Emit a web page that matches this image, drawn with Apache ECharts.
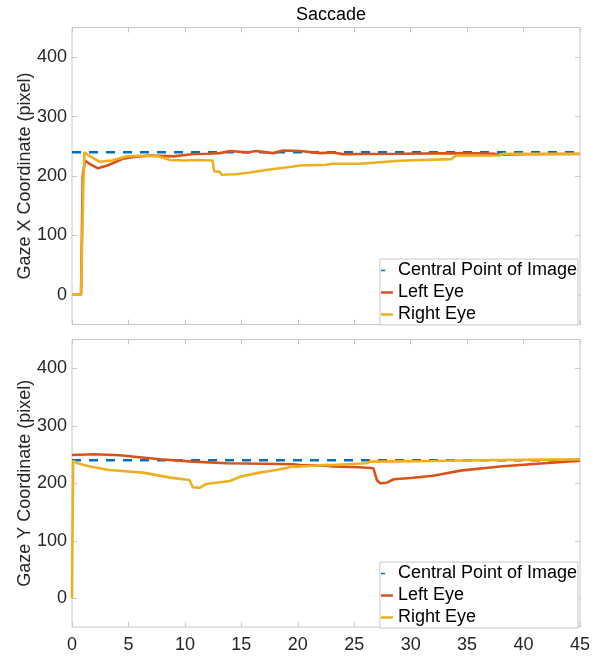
<!DOCTYPE html>
<html>
<head>
<meta charset="utf-8">
<script src="https://cdn.jsdelivr.net/npm/echarts@6/dist/echarts.min.js"></script>
<style>html,body{margin:0;padding:0;background:#fff;}#c{width:606px;height:657px;}</style>
</head>
<body>
<div id="c"></div>
<script>
// ---- Data ----
const titleText = "Saccade";
const seriesNames = ["Central Point of Image", "Left Eye", "Right Eye"];
const xTicks = [0, 5, 10, 15, 20, 25, 30, 35, 40, 45];
const yTicks = [0, 100, 200, 300, 400];

const centralT = [0, 45];
const centralV = [240, 240];

// Gaze X (top panel)
const leftXT = [0, 0.8, 0.95, 1.15, 1.6, 2.3, 3.2, 4.5, 5.5, 6.9, 9.0, 10.8, 12.0, 13.1, 14.0, 15.5, 16.3, 17.8, 18.7, 20.2, 22.0, 23.1, 24.0, 25.5, 29, 35, 37.4, 37.9, 40, 45];
const leftXV = [0, 0, 200, 226, 220, 213, 218, 229, 232, 234.5, 233, 237, 237.5, 238.5, 242, 239.7, 242, 238.5, 243, 242, 238.5, 239.6, 236.8, 237, 237.4, 238.5, 237.5, 235.7, 236.5, 237];
const rightXT = [0, 0.8, 1.0, 1.1, 1.6, 2.45, 3.5, 4.8, 6, 7.7, 8.7, 10, 11, 12.45, 12.6, 13.1, 13.25, 14.5, 15.75, 17.2, 19.6, 20.2, 22.5, 23.1, 25.5, 29, 33.6, 34.0, 37.8, 38.2, 45];
const rightXV = [0, 0, 180, 240, 233, 224, 226, 233, 234, 233, 227, 226, 227, 226, 208, 207, 202, 203, 206, 210, 216, 217.7, 219, 220.5, 220.6, 225.6, 228.4, 234, 234.5, 237.4, 237.4];

// Gaze Y (bottom panel)
const leftYT = [0, 0.15, 2, 4.2, 7.8, 10.7, 13.7, 17, 19.6, 20.2, 22.6, 23.1, 25.5, 26.7, 27.0, 27.3, 27.9, 28.5, 30, 32.0, 34.4, 37.9, 40.9, 45];
const leftYV = [249, 251, 250.5, 248.6, 241.7, 237.6, 234.8, 234, 233, 231.8, 230.6, 229, 227.8, 226, 205.7, 200, 201, 207, 209, 213, 222, 229, 233.6, 239.3];
const rightYT = [0, 0.1, 0.5, 1.57, 3.3, 6.3, 8.7, 10.4, 10.7, 11.3, 11.9, 13.1, 14.0, 14.9, 16.6, 18.1, 19.6, 20.2, 22.6, 23.1, 26.1, 26.4, 32, 37.9, 45];
const rightYV = [0, 239, 235, 229, 223, 218.5, 209.8, 205.7, 193, 192, 198.8, 201.6, 204, 211.5, 218.5, 223, 229, 229, 232, 231.8, 234.8, 237.6, 238.6, 240.5, 241.6];

// ---- Build ----
const zip = (t, v) => t.map((x, i) => [x, v[i]]);
const colors = ["#0072BD", "#D95319", "#EDB120"];
const font = "'Liberation Sans', Arial, Helvetica, sans-serif";
const lineCol = "#c8c8c8";
const txtCol = "#262626";

const grids = [
  { left: 72, right: 26, top: 27.5, height: 297, show: true, borderColor: lineCol, borderWidth: 1 },
  { left: 72, right: 26, top: 339.5, height: 287.5, show: true, borderColor: lineCol, borderWidth: 1 }
];

function xAx(gi, pos, labels) {
  return {
    type: 'value', gridIndex: gi, position: pos, min: 0, max: 45, interval: 5,
    axisLine: { show: false, onZero: false },
    axisTick: { show: true, inside: true, length: 5, customValues: xTicks, lineStyle: { color: lineCol } },
    axisLabel: { show: labels, color: txtCol, fontSize: 18, fontFamily: font, margin: 9, customValues: xTicks },
    splitLine: { show: false }
  };
}
function yAx(gi, pos, labels, name) {
  return {
    type: 'value', gridIndex: gi, position: pos, min: -50, max: 450,
    name: name, nameLocation: 'middle', nameGap: 38, nameMoveOverlap: false,
    nameTextStyle: { color: txtCol, fontSize: 18, fontFamily: font },
    axisLine: { show: false, onZero: false },
    axisTick: { show: true, inside: true, length: 5, customValues: yTicks, lineStyle: { color: lineCol } },
    axisLabel: { show: labels, color: txtCol, fontSize: 18, fontFamily: font, margin: 5, customValues: yTicks },
    splitLine: { show: false }
  };
}

function panelSeries(xi, yi, leftData, rightData) {
  return [
    { name: seriesNames[0], type: 'line', xAxisIndex: xi, yAxisIndex: yi, data: zip(centralT, centralV), showSymbol: false, symbol: 'none',
      lineStyle: { color: colors[0], width: 2.3, type: [9, 8] }, itemStyle: { color: colors[0] }, z: 2, animation: false },
    { name: seriesNames[1], type: 'line', xAxisIndex: xi, yAxisIndex: yi, data: leftData, showSymbol: false, symbol: 'none',
      lineStyle: { color: colors[1], width: 2.6 }, itemStyle: { color: colors[1] }, z: 3, animation: false },
    { name: seriesNames[2], type: 'line', xAxisIndex: xi, yAxisIndex: yi, data: rightData, showSymbol: false, symbol: 'none',
      lineStyle: { color: colors[2], width: 2.6 }, itemStyle: { color: colors[2] }, z: 4, animation: false }
  ];
}

function legendAt(top) {
  return {
    orient: 'vertical', right: 28, top: top,
    backgroundColor: '#fff', borderColor: lineCol, borderWidth: 1,
    padding: [1, 1, 0, 1], itemGap: 1, itemWidth: 12, itemHeight: 2.5,
    textStyle: { color: '#000', fontSize: 18, fontFamily: font, lineHeight: 21 },
    data: [
      { name: seriesNames[0], icon: 'path://M0,0 L5,0 L5,2 L0,2 Z M13.9,0 L14,0 L14,2 L13.9,2 Z' },
      { name: seriesNames[1], icon: 'rect' },
      { name: seriesNames[2], icon: 'rect' }
    ],
    selectedMode: false
  };
}

const chart = echarts.init(document.getElementById('c'), null, { renderer: 'canvas' });
chart.setOption({
  animation: false,
  backgroundColor: '#fff',
  title: { text: titleText, left: 326, textAlign: 'center', top: 1, textStyle: { color: '#000', fontSize: 18, fontWeight: 'normal', fontFamily: font } },
  grid: grids,
  xAxis: [xAx(0, 'bottom', false), xAx(0, 'top', false), xAx(1, 'bottom', true), xAx(1, 'top', false)],
  yAxis: [yAx(0, 'left', true, 'Gaze X Coordinate (pixel)'), yAx(0, 'right', false, ''), yAx(1, 'left', true, 'Gaze Y Coordinate (pixel)'), yAx(1, 'right', false, '')],
  legend: [legendAt(259), legendAt(562)],
  series: [].concat(
    panelSeries(0, 0, zip(leftXT, leftXV), zip(rightXT, rightXV)),
    panelSeries(2, 2, zip(leftYT, leftYV), zip(rightYT, rightYV))
  )
});
</script>
</body>
</html>
